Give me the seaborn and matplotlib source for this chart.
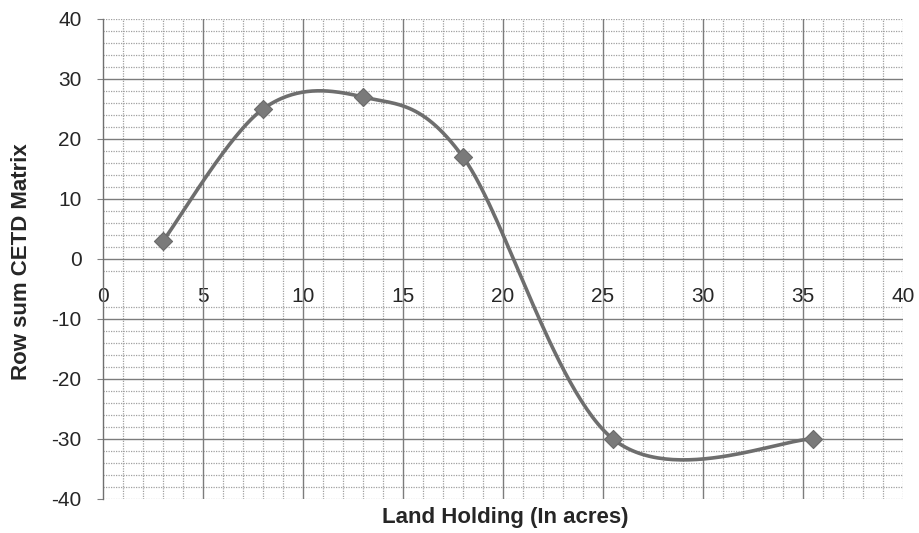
import numpy as np
import pandas as pd
import matplotlib
matplotlib.use("Agg")
import matplotlib.pyplot as plt
import seaborn as sns

# data
land_holding = [3, 8, 13, 18, 25.5, 35.5]
row_sum = [3, 25, 27, 17, -30, -30]

x_ticks = [0, 5, 10, 15, 20, 25, 30, 35, 40]
y_ticks = [-40, -30, -20, -10, 0, 10, 20, 30, 40]


def excel_smooth(xs, ys, n=60):
    # excel style smoothed line: cubic bezier, control points from neighbours / 6
    pts = np.column_stack([xs, ys]).astype(float)
    pad = np.vstack([pts[0], pts, pts[-1]])
    out = []
    for i in range(len(pts) - 1):
        p0, p1, p2, p3 = pad[i], pad[i + 1], pad[i + 2], pad[i + 3]
        c1 = p1 + (p2 - p0) / 6
        c2 = p2 - (p3 - p1) / 6
        t = np.linspace(0, 1, n)[:, None]
        seg = ((1 - t) ** 3) * p1 + 3 * ((1 - t) ** 2) * t * c1 + 3 * (1 - t) * t ** 2 * c2 + t ** 3 * p2
        out.append(seg if i == 0 else seg[1:])
    return np.vstack(out)


sns.set_style("white")
plt.rcParams["font.family"] = ["Liberation Sans", "DejaVu Sans"]
plt.rcParams["axes.unicode_minus"] = False

fig = plt.figure(figsize=(9.2, 5.33), dpi=100)
ax = fig.add_axes([103 / 920, 34 / 533, 800 / 920, 480 / 533])

ax.set_xlim(0, 40)
ax.set_ylim(-40, 40)
ax.set_xticks(x_ticks)
ax.set_yticks(y_ticks)

# minor dotted grid (the band behind the x tick labels stays clear)
minor_x = [v for v in range(0, 41) if v % 5 != 0] + [40]
minor_y = [v for v in range(-40, 41, 2) if v % 10 != 0 and v not in (-4, -6)] + [-40, 40]
for v in minor_x:
    ax.axvline(v, color="#a0a0a0", lw=0.9, ls=(0, (1, 1)), zorder=1)
for v in minor_y:
    ax.axhline(v, color="#a0a0a0", lw=0.9, ls=(0, (1, 1)), zorder=1)
# major solid grid
for v in x_ticks[1:-1]:
    ax.axvline(v, color="#7c7c7c", lw=1.0, zorder=2)
for v in y_ticks[1:-1]:
    ax.axhline(v, color="#7c7c7c", lw=1.0, zorder=2)

curve = excel_smooth(land_holding, row_sum)
ax.plot(curve[:, 0], curve[:, 1], color="#6e6e6e", lw=2.6, zorder=3)
df = pd.DataFrame({"x": land_holding, "y": row_sum})
sns.scatterplot(data=df, x="x", y="y", marker="D", s=85, color="#7a7a7a",
                edgecolor="#6a6a6a", linewidth=0.8, zorder=4, ax=ax)

for s in ["top", "right", "bottom"]:
    ax.spines[s].set_visible(False)
ax.spines["left"].set_color("#707070")
ax.spines["left"].set_linewidth(1.0)
ax.tick_params(axis="x", length=0, pad=20, labelsize=15, bottom=False)
ax.tick_params(axis="y", length=4.5, width=0.8, color="#808080", direction="out",
               left=True, pad=11, labelsize=15)
ax.spines["bottom"].set_position(("data", 0))

ax.set_xlabel("")
ax.set_ylabel("")
fig.text(22 / 920, 1 - 262 / 533, "Row sum CETD Matrix", fontsize=16, fontweight="bold",
         rotation=90, ha="center", va="center")
fig.text(505 / 920, 1 - 517 / 533, "Land Holding (In acres)", fontsize=16, fontweight="bold",
         ha="center", va="center")

fig.savefig("out.png", dpi=100, facecolor="white")
